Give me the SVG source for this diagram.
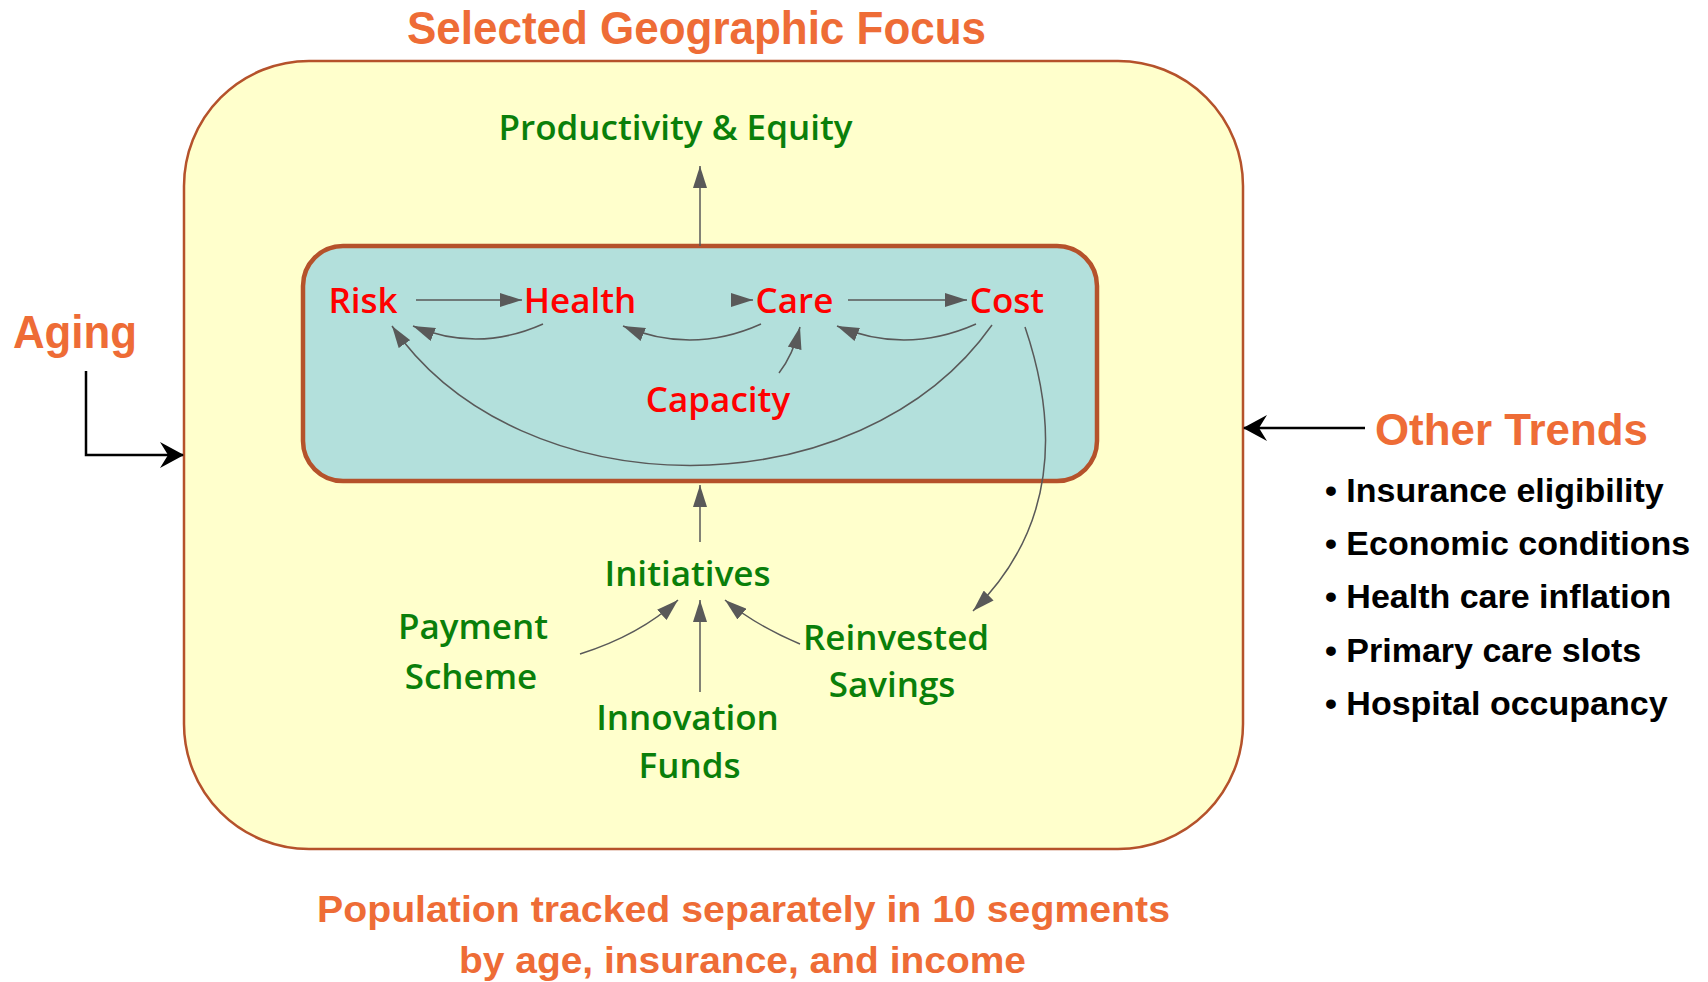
<svg xmlns="http://www.w3.org/2000/svg" width="1708" height="982" viewBox="0 0 1708 982">
<style>
.or{font-family:"Liberation Sans",Arial,sans-serif;font-weight:bold;fill:#EE6C36}
.rd{font-family:"Open Sans","Noto Sans",sans-serif;font-size:35px;font-weight:600;fill:#FF0000;text-anchor:middle}
.gr{font-family:"Open Sans","Noto Sans",sans-serif;font-size:35px;font-weight:600;fill:#0A7F0A;text-anchor:middle}
.bl{font-family:"Liberation Sans",Arial,sans-serif;font-weight:bold;font-size:34px;fill:#000}
.cn{fill:none;stroke:#595959;stroke-width:1.5}
.bk{fill:none;stroke:#000;stroke-width:2.5}
</style>
<defs>
<marker id="ah" viewBox="0 0 22 14" refX="22" refY="7" markerWidth="22" markerHeight="14" markerUnits="userSpaceOnUse" orient="auto">
<path d="M0,0 L22,7 L0,14 Z" fill="#595959"/>
</marker>
<marker id="bh" viewBox="0 0 24 26" refX="23" refY="13" markerWidth="24" markerHeight="26" markerUnits="userSpaceOnUse" orient="auto">
<path d="M0,0 L24,13 L0,26 L8,13 Z" fill="#000"/>
</marker>
</defs>
<rect width="1708" height="982" fill="#FFFFFF"/>
<g id="title"><text class="or" x="407" y="44" font-size="46" textLength="579" lengthAdjust="spacingAndGlyphs">Selected Geographic Focus</text></g>
<g id="region"><rect x="184" y="61" width="1059" height="788" rx="125" ry="125" fill="#FFFFCC" stroke="#B5522B" stroke-width="2.5"/></g>
<g id="core"><rect x="303" y="246" width="794" height="235" rx="40" ry="40" fill="#B3E0DC" stroke="#B5522B" stroke-width="4.5"/></g>
<g id="connectors">
<path class="cn" d="M700,246 L700,166" marker-end="url(#ah)"/>
<path class="cn" d="M700,542 L700,485" marker-end="url(#ah)"/>
<path class="cn" d="M416,300 L522,300" marker-end="url(#ah)"/>
<path class="cn" d="M731,300 L753,300" marker-end="url(#ah)"/>
<path class="cn" d="M848,300 L967,300" marker-end="url(#ah)"/>
<path class="cn" d="M543,324 Q478,353 413,326" marker-end="url(#ah)"/>
<path class="cn" d="M761,324 Q692,355 623,326" marker-end="url(#ah)"/>
<path class="cn" d="M976,324 Q906,355 837,326" marker-end="url(#ah)"/>
<path class="cn" d="M779,373 Q793,355 800,327" marker-end="url(#ah)"/>
<path class="cn" d="M992,325 C860,512 520,512 392,326" marker-end="url(#ah)"/>
<path class="cn" d="M1025,327 C1060,430 1055,530 973,611" marker-end="url(#ah)"/>
<path class="cn" d="M580,654 Q640,635 678,600" marker-end="url(#ah)"/>
<path class="cn" d="M700,692 L700,600" marker-end="url(#ah)"/>
<path class="cn" d="M800,644 Q755,625 725,600" marker-end="url(#ah)"/>
<path class="bk" d="M86,371 L86,455 L183,455" marker-end="url(#bh)"/>
<path class="bk" d="M1365,428 L1244,428" marker-end="url(#bh)"/>
</g>
<g id="productivity"><text class="gr" x="675.5" y="140" font-size="36">Productivity &amp; Equity</text></g>
<g id="risk"><text class="rd" x="363" y="313">Risk</text></g>
<g id="health"><text class="rd" x="580" y="313">Health</text></g>
<g id="care"><text class="rd" x="794.5" y="313">Care</text></g>
<g id="cost"><text class="rd" x="1007" y="313">Cost</text></g>
<g id="capacity"><text class="rd" x="718" y="412">Capacity</text></g>
<g id="initiatives"><text class="gr" x="687.5" y="586">Initiatives</text></g>
<g id="payment"><text class="gr" x="473" y="639">Payment</text><text class="gr" x="471" y="689">Scheme</text></g>
<g id="innovation"><text class="gr" x="687.5" y="730">Innovation</text><text class="gr" x="689.5" y="778">Funds</text></g>
<g id="savings"><text class="gr" x="896" y="650">Reinvested</text><text class="gr" x="892" y="697">Savings</text></g>
<g id="aging"><text class="or" x="13" y="348" font-size="46" textLength="124" lengthAdjust="spacingAndGlyphs">Aging</text></g>
<g id="trends">
<text class="or" x="1375" y="445" font-size="44" textLength="273" lengthAdjust="spacingAndGlyphs">Other Trends</text>
<text class="bl" x="1325" y="502">• Insurance eligibility</text>
<text class="bl" x="1325" y="555">• Economic conditions</text>
<text class="bl" x="1325" y="608">• Health care inflation</text>
<text class="bl" x="1325" y="662">• Primary care slots</text>
<text class="bl" x="1325" y="715">• Hospital occupancy</text>
</g>
<g id="footer">
<text class="or" x="317" y="922" font-size="37" textLength="853" lengthAdjust="spacingAndGlyphs">Population  tracked separately  in 10 segments</text>
<text class="or" x="459" y="973" font-size="37" textLength="567" lengthAdjust="spacingAndGlyphs">by age, insurance, and income</text>
</g>
</svg>
